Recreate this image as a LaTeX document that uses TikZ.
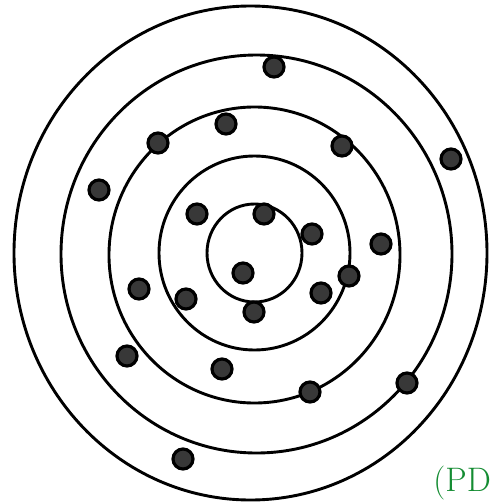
\documentclass[tikz,border=0pt]{standalone}
\definecolor{pengreen}{RGB}{20,140,50}
\tikzset{
  ring/.style={draw=black, line width=2.9pt},
  dot/.style={circle, draw=black, line width=3.2pt, fill=black!78, minimum size=20pt, inner sep=0pt},
}
\begin{document}
\begin{tikzpicture}[x=1pt,y=-1pt]
\useasboundingbox (0,0) rectangle (493,504);
\clip (0,0) rectangle (493,504);
\fill[white] (0,0) rectangle (493,504);
\draw[ring] (250.5,253) ellipse [x radius=236.5, y radius=247];
\draw[ring] (256.5,254) ellipse [x radius=195.5, y radius=199];
\draw[ring] (254.5,255) ellipse [x radius=145.5, y radius=148];
\draw[ring] (254.5,253) ellipse [x radius=95.5, y radius=97];
\draw[ring] (254.5,253) ellipse [x radius=47.5, y radius=49];
\node[dot] (d1) at (274,67) {};
\node[dot] (d2) at (226,124) {};
\node[dot] (d3) at (158,143) {};
\node[dot] (d4) at (342,146) {};
\node[dot] (d5) at (451,159) {};
\node[dot] (d6) at (99,190) {};
\node[dot] (d7) at (197,214) {};
\node[dot] (d8) at (264,214) {};
\node[dot] (d9) at (312,234) {};
\node[dot] (d10) at (381,244) {};
\node[dot] (d11) at (243,273) {};
\node[dot] (d12) at (349,276) {};
\node[dot] (d13) at (139,289) {};
\node[dot] (d14) at (186,299) {};
\node[dot] (d15) at (321,293) {};
\node[dot] (d16) at (254,312) {};
\node[dot] (d17) at (127,356) {};
\node[dot] (d18) at (222,369) {};
\node[dot] (d19) at (310,392) {};
\node[dot] (d20) at (407,383) {};
\node[dot] (d21) at (183,459) {};
\node[text=pengreen, anchor=south east, inner sep=0pt, font=\fontsize{34}{36}\selectfont] (note) at (491,500) {(PD};
\end{tikzpicture}
\end{document}
